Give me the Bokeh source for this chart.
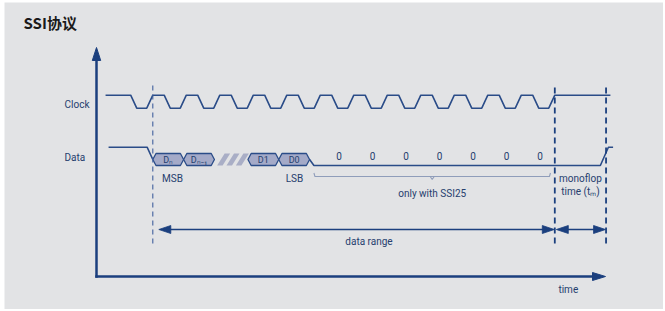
from bokeh.plotting import figure
from bokeh.models import Range1d
from bokeh.core.properties import value
from bokeh.embed import file_html
from bokeh.resources import INLINE

# ---------------- diagram data (time in clock periods; t=0 = first rising edge) -------------
title_text = "SSI协议"
signal_names = ["Clock", "Data"]
clock_pulse_k = [0, 1, 2, 3, 4, 5, 6, 7, 8, 9, 10, 11, 12]      # 13 clock pulses
clock_shape = [-0.66, -0.48, -0.18, 0.0]   # fall start, fall end, rise start, rise end
clock_span = [-1.41, 13.66]
bit_labels = ["Dₙ", "Dₙ₋₁", "D1", "D0"]
bit_starts = [0.0, 0.92, 2.84, 3.76]
bit_width = 0.92
gap_slashes = [1.92, 2.20, 2.48]
bit_roles = ["MSB", "LSB"]
bit_role_t = [0.59, 4.23]
pad_bits = ["0", "0", "0", "0", "0", "0", "0"]
pad_t = [5.56, 6.56, 7.56, 8.56, 9.56, 10.56, 11.56]
data_high_before = [-1.32, -0.17]
data_low = [4.81, 13.36]
data_high_after = [13.60, 13.74]
frame_start = 0.0
data_range_end = 12.0
monoflop_end = 13.53
brace_span = [4.81, 11.87]
brace_label = "only with SSI25"
interval_labels = ["data range", "monoflop", "time (tₘ)"]
axis_label = "time"

# ---------------- layout --------------------------------------------------------------
W, H = 663, 309
ML, MT = 4, 2               # white edge left / top
PX = 33.5                   # pixels per clock period
T0_PX = 152.3               # page x of t = 0
def t_of(px):               # page x -> time
    return (px - T0_PX) / PX
def dt(px):                 # pixel length -> time length
    return px / PX

BG = "#e2e3e5"
NAVY = "#1b3f7e"
SIG = "#2a4c88"
TXT = "#26406e"
FONT = value("Roboto")

p = figure(width=W, height=H, output_backend="svg", toolbar_location=None,
           x_range=Range1d(t_of(ML), t_of(W)), y_range=Range1d(H, MT),
           min_border_left=ML, min_border_top=MT, min_border_right=0, min_border_bottom=0,
           background_fill_color=BG, border_fill_color="white",
           outline_line_color=None)
p.axis.visible = False
p.grid.visible = False

CLK_HI, CLK_LO = 94.7, 107.7
DAT_HI, DAT_LO = 146.7, 165.0
BOX_TOP, BOX_BOT = 153.0, 165.0
BOX_MID = (BOX_TOP + BOX_BOT) / 2
AX_T, AX_Y, AX_TOP = t_of(96), 276.0, 47.0

# title
p.text(x=[t_of(23)], y=[21.5], text=[title_text], text_font=value("Noto Sans CJK SC"),
       text_font_style="bold", text_font_size="15px", text_color="#1a1a1a",
       text_align="left", text_baseline="middle")

# signal names
p.text(x=[t_of(64), t_of(64)], y=[104.0, 156.7], text=signal_names, text_font=FONT,
       text_font_size="10px", text_color=TXT, text_align="left", text_baseline="middle")

# axes with arrow heads
p.line(x=[AX_T, AX_T], y=[AX_Y + 1.2, AX_TOP + 8], line_color=NAVY, line_width=2.5)
p.line(x=[AX_T - dt(1.2), t_of(605) - dt(8)], y=[AX_Y, AX_Y], line_color=NAVY, line_width=2.5)
p.patch(x=[AX_T - dt(4.2), AX_T, AX_T + dt(4.2)], y=[AX_TOP + 13, AX_TOP, AX_TOP + 13],
        fill_color=NAVY, line_color=NAVY, line_width=1)
xt = t_of(605)
p.patch(x=[xt - dt(13), xt, xt - dt(13)], y=[AX_Y - 4, AX_Y, AX_Y + 4],
        fill_color=NAVY, line_color=NAVY, line_width=1)
p.text(x=[t_of(567.8)], y=[288.5], text=[axis_label], text_font=FONT, text_font_size="10px",
       text_color=TXT, text_align="center", text_baseline="middle")

# clock waveform
cx, cy = [clock_span[0]], [CLK_HI]
for k in clock_pulse_k:
    cx += [k + s for s in clock_shape]
    cy += [CLK_HI, CLK_LO, CLK_LO, CLK_HI]
cx.append(clock_span[1]); cy.append(CLK_HI)
p.line(x=cx, y=cy, line_color=SIG, line_width=1.6)

# data waveform
p.line(x=data_high_before + [frame_start], y=[DAT_HI, DAT_HI, BOX_MID],
       line_color=SIG, line_width=1.6)
d0_end = bit_starts[-1] + bit_width
p.line(x=[d0_end, data_low[0], data_low[1], data_high_after[0], data_high_after[1]],
       y=[BOX_MID, DAT_LO, DAT_LO, DAT_HI, DAT_HI], line_color=SIG, line_width=1.6)

notch = dt(3.2)
hx, hy = [], []
for s in bit_starts:
    e = s + bit_width
    hx.append([s, s + notch, e - notch, e, e - notch, s + notch])
    hy.append([BOX_MID, BOX_TOP, BOX_TOP, BOX_MID, BOX_BOT, BOX_BOT])
p.patches(xs=hx, ys=hy, fill_color="#a4aac8", line_color=SIG, line_width=1.3)
p.text(x=[s + bit_width / 2 for s in bit_starts], y=[BOX_MID + 0.5] * len(bit_starts),
       text=bit_labels, text_font=FONT, text_font_size="9px", text_color="#23406f",
       text_align="center", text_baseline="middle")

sx, sy = [], []
for g in gap_slashes:
    sx.append([g, g + dt(5.5), g + dt(13), g + dt(7.5)])
    sy.append([BOX_BOT, BOX_BOT, BOX_TOP, BOX_TOP])
p.patches(xs=sx, ys=sy, fill_color="#a9aec6", line_color=None)

p.text(x=bit_role_t, y=[178.3, 178.3], text=bit_roles, text_font=FONT, text_font_size="10px",
       text_color=TXT, text_align="center", text_baseline="middle")
p.text(x=pad_t, y=[155.7] * len(pad_t), text=pad_bits, text_font=FONT, text_font_size="10px",
       text_color=TXT, text_align="center", text_baseline="middle")

# brace "only with SSI25"
BR = "#8f9dba"
bmid = (brace_span[0] + brace_span[1]) / 2
p.line(x=[brace_span[0], brace_span[0] + dt(1), brace_span[1] - dt(1), brace_span[1]],
       y=[172.5, 176.0, 176.0, 172.5], line_color=BR, line_width=1.1)
p.line(x=[bmid - dt(2), bmid, bmid + dt(2)], y=[176.0, 179.0, 176.0], line_color=BR, line_width=1.1)
p.text(x=[bmid], y=[193.3], text=[brace_label], text_font=FONT, text_font_size="10px",
       text_color=TXT, text_align="center", text_baseline="middle")

# frame markers (dashed)
p.line(x=[frame_start, frame_start], y=[85, 247], line_color="#3f5f9c", line_width=1.1,
       line_dash="5 4")
p.line(x=[data_range_end, data_range_end], y=[87, 243], line_color=NAVY, line_width=1.8,
       line_dash="6 4")
p.line(x=[monoflop_end, monoflop_end], y=[87, 247], line_color=NAVY, line_width=1.8,
       line_dash="6 4")

# interval arrows
AY = 229.0
def harrow(t1, t2):
    p.line(x=[t1 + dt(6), t2 - dt(6)], y=[AY, AY], line_color=NAVY, line_width=1.6)
    p.patch(x=[t1, t1 + dt(12), t1 + dt(12)], y=[AY, AY - 4, AY + 4],
            fill_color=NAVY, line_color=NAVY, line_width=0.8)
    p.patch(x=[t2, t2 - dt(12), t2 - dt(12)], y=[AY, AY - 4, AY + 4],
            fill_color=NAVY, line_color=NAVY, line_width=0.8)

harrow(frame_start + dt(6), data_range_end - dt(0.5))
harrow(data_range_end + dt(1.5), monoflop_end - dt(0.5))

p.text(x=[t_of(368.5)], y=[240.7], text=[interval_labels[0]], text_font=FONT,
       text_font_size="10px", text_color=TXT, text_align="center", text_baseline="middle")
mid_mono = (data_range_end + monoflop_end) / 2
p.text(x=[mid_mono, mid_mono], y=[178.3, 190.7], text=interval_labels[1:], text_font=FONT,
       text_font_size="10px", text_color=TXT, text_align="center", text_baseline="middle")

open("out.html", "w").write(file_html(p, INLINE))
